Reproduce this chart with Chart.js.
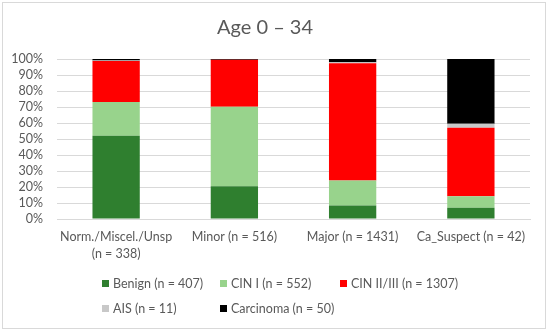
<!DOCTYPE html>
<html>
<head>
<meta charset="utf-8">
<script src="https://cdn.jsdelivr.net/npm/chart.js@4"></script>
<style>
    body { margin: 0; background: #fff; font-family: Lato, "Liberation Sans", sans-serif; }
    #wrap { position: relative; width: 550px; height: 332px; }
    #frame { position: absolute; left: 2px; top: 2px; width: 542px; height: 325px; border: 1px solid #d9d9d9; }
    #chart { position: absolute; left: 0; top: 0; }
    .leg { position: absolute; font-size: 12.5px; color: #595959; white-space: nowrap; line-height: 14px; }
    .leg i { display: inline-block; width: 7px; height: 7px; margin-right: 4px; vertical-align: 1px; }
</style>
</head>
<body>
<div id="wrap">
    <div id="frame"></div>
    <canvas id="chart" width="550" height="332"></canvas>
    <div id="legend"></div>
</div>
<script>
const categories = [['Norm./Miscel./Unsp', '(n = 338)'], 'Minor (n = 516)', 'Major (n = 1431)', 'Ca_Suspect (n = 42)'];
const seriesNames = ['Benign (n = 407)', 'CIN I (n = 552)', 'CIN II/III (n = 1307)', 'AIS (n = 11)', 'Carcinoma (n = 50)'];
const benign = [52.1, 20.5, 8.5, 7.1];
const cin1 = [21.0, 49.6, 15.5, 7.1];
const cin23 = [25.7, 29.5, 73.4, 42.9];
const ais = [0.3, 0, 0.6, 2.4];
const carcinoma = [0.9, 0.4, 2.0, 40.5];
const yTicks = [0, 10, 20, 30, 40, 50, 60, 70, 80, 90, 100];

const colors = ['#2f7f2f', '#98d38c', '#ff0000', '#c8c8c8', '#000000'];
const values = [benign, cin1, cin23, ais, carcinoma];
const textColor = '#595959';
const fontFamily = 'Lato, "Liberation Sans", sans-serif';

new Chart(document.getElementById('chart'), {
    type: 'bar',
    data: {
        labels: categories,
        datasets: values.map((v, i) => ({
            label: seriesNames[i],
            data: v,
            backgroundColor: colors[i],
            barPercentage: 0.4,
            categoryPercentage: 1
        }))
    },
    options: {
        responsive: false,
        animation: false,
        layout: { padding: { left: 0, right: 20, top: 0, bottom: 0 } },
        plugins: {
            legend: { display: false },
            tooltip: { enabled: false },
            title: {
                display: true,
                text: 'Age 0 \u2013 34',
                color: textColor,
                font: { family: fontFamily, size: 20, weight: 'normal', lineHeight: 1.2 },
                padding: { top: 16, bottom: 19 }
            }
        },
        scales: {
            x: {
                stacked: true,
                grid: { display: false, drawTicks: false },
                border: { color: '#d9d9d9' },
                ticks: { color: textColor, font: { family: fontFamily, size: 12.5, lineHeight: 1.35 }, padding: 10, maxRotation: 0, autoSkip: false },
                afterFit: s => { s.height = 113; }
            },
            y: {
                stacked: true,
                min: 0,
                max: 100,
                afterBuildTicks: s => { s.ticks = yTicks.map(v => ({ value: v })); },
                grid: { color: '#d9d9d9', drawTicks: false },
                border: { display: false },
                ticks: { color: textColor, font: { family: fontFamily, size: 12.5 }, padding: 14, autoSkip: false, callback: v => v + '%' },
                afterFit: s => { s.width = 57; }
            }
        }
    }
});

// legend laid out in columns like the original
const legendPos = [[102, 277], [220, 277], [340, 277], [102, 302], [220, 302]];
const legend = document.getElementById('legend');
seriesNames.forEach((name, i) => {
    const d = document.createElement('div');
    d.className = 'leg';
    d.style.left = legendPos[i][0] + 'px';
    d.style.top = legendPos[i][1] + 'px';
    d.innerHTML = `<i style="background:${colors[i]}"></i>${name}`;
    legend.appendChild(d);
});
</script>
</body>
</html>
